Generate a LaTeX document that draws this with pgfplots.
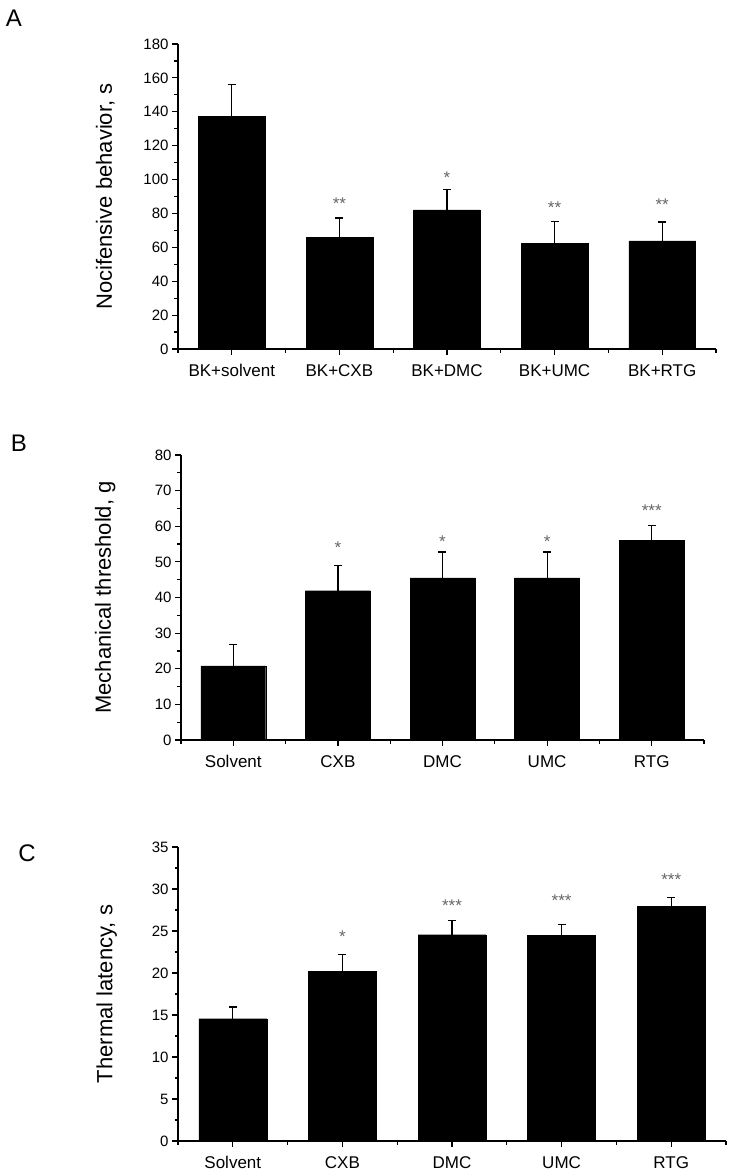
\documentclass[border=0pt]{standalone}
\usepackage{fontspec}
\setmainfont{Liberation Sans}
\usepackage{pgfplots}
\pgfplotsset{compat=1.18}

\pgfplotsset{
 panel/.style={
  scale only axis, anchor=south west,
  xmin=-0.5, xmax=4.5, ymin=0,
  axis lines=left, axis line style={-, line width=1.2pt},
  x axis line style={shorten <=-6pt},
  tick style={line width=1.2pt, black},
  tick align=outside,
  major tick length=6pt, minor tick length=3.5pt,
  xtick={0,...,4}, minor xtick={-0.5,0.5,1.5,2.5,3.5,4.5},
  minor y tick num=1,
  /pgf/number format/assume math mode=true,
  yticklabel style={font=\fontsize{15}{15}\selectfont},
  xticklabel style={font=\fontsize{17}{17}\selectfont, yshift=-6pt},
  ylabel style={font=\fontsize{22}{22}\selectfont, anchor=center},
  clip=false,
 },
 bars/.style={ybar, bar width=0.62, fill=black, draw=black,
   error bars/.cd, y dir=plus, y explicit,
   error bar style={line width=1.2pt, black},
   error mark options={rotate=90, mark size=4pt, line width=1.2pt, black}},
}
\tikzset{starlbl/.style={font=\fontsize{17}{17}\selectfont, text=black!60, anchor=center, inner sep=0pt}}

\begin{document}
\begin{tikzpicture}
\useasboundingbox (0pt,0pt) rectangle (731pt,-1176pt);

% Panel A
\node[font=\fontsize{24}{24}\selectfont] at (14pt,-18pt) {A};
\begin{axis}[panel, at={(178pt,-349pt)}, width=538pt, height=305pt,
  ymax=180, ytick={0,20,...,180},
  xticklabels={BK+solvent,BK+CXB,BK+DMC,BK+UMC,BK+RTG},
  ylabel={Nocifensive behavior, s},
  ylabel style={at={(axis description cs:-0.135,0.5)}}]
\addplot[bars] coordinates {
 (0,137.5) +- (0,18.8)
 (1,65.8)  +- (0,11.5)
 (2,82.1)  +- (0,11.9)
 (3,62.2)  +- (0,13.2)
 (4,63.8)  +- (0,11.2)
};
\node[starlbl] at (axis cs:1,85.6) {**};
\node[starlbl] at (axis cs:2,101.3) {*};
\node[starlbl] at (axis cs:3,83.6) {**};
\node[starlbl] at (axis cs:4,85.2) {**};
\end{axis}

% Panel B
\node[font=\fontsize{24}{24}\selectfont] at (19pt,-443pt) {B};
\begin{axis}[panel, at={(181pt,-740pt)}, width=523pt, height=285pt,
  ymax=80, ytick={0,10,...,80},
  xticklabels={Solvent,CXB,DMC,UMC,RTG},
  ylabel={Mechanical threshold, g},
  ylabel style={at={(axis description cs:-0.145,0.5)}}]
\addplot[bars] coordinates {
 (0,20.8) +- (0,5.9)
 (1,41.9) +- (0,7.0)
 (2,45.5) +- (0,7.3)
 (3,45.5) +- (0,7.3)
 (4,56.0) +- (0,4.2)
};
\node[starlbl] at (axis cs:1,54.0) {*};
\node[starlbl] at (axis cs:2,55.8) {*};
\node[starlbl] at (axis cs:3,55.8) {*};
\node[starlbl] at (axis cs:4,64.5) {***};
\end{axis}

% Panel C
\node[font=\fontsize{24}{24}\selectfont] at (27pt,-853pt) {C};
\begin{axis}[panel, at={(178pt,-1141pt)}, width=548pt, height=294pt,
  ymax=35, ytick={0,5,...,35},
  xticklabels={Solvent,CXB,DMC,UMC,RTG},
  ylabel={Thermal latency, s},
  ylabel style={at={(axis description cs:-0.13,0.5)}}]
\addplot[bars] coordinates {
 (0,14.56) +- (0,1.4)
 (1,20.2)  +- (0,2.0)
 (2,24.56) +- (0,1.7)
 (3,24.5)  +- (0,1.3)
 (4,27.9)  +- (0,1.1)
};
\node[starlbl] at (axis cs:1,24.3) {*};
\node[starlbl] at (axis cs:2,28.0) {***};
\node[starlbl] at (axis cs:3,28.65) {***};
\node[starlbl] at (axis cs:4,31.15) {***};
\end{axis}
\end{tikzpicture}
\end{document}
